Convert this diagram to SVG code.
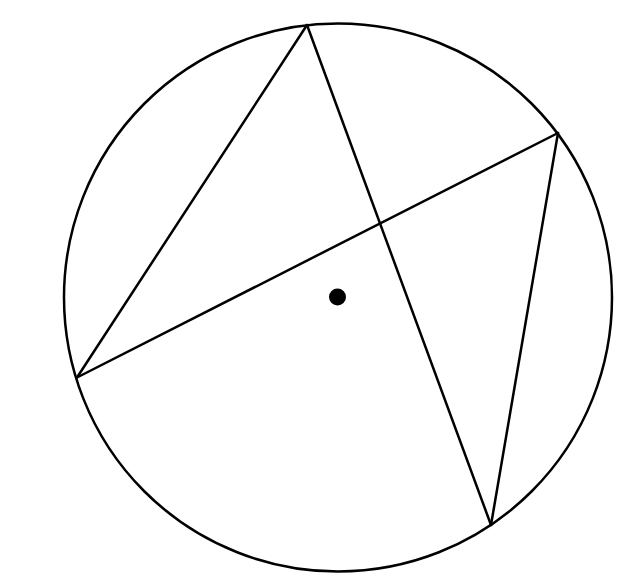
<svg xmlns="http://www.w3.org/2000/svg" width="633" height="586" viewBox="0 0 633 586">
<style>
.s{fill:none;stroke:#000;stroke-width:2.5;stroke-linejoin:round;stroke-linecap:round}
</style>
<rect width="633" height="586" fill="#fff"/>
<g id="circle"><circle class="s" cx="338" cy="297.5" r="274"/></g>
<g id="center"><circle cx="337.5" cy="297" r="8.5" fill="#000"/></g>
<g id="connectors">
<line class="s" x1="307" y1="25" x2="77" y2="377.5"/>
<line class="s" x1="307" y1="25" x2="491" y2="525"/>
<line class="s" x1="77" y1="377.5" x2="558" y2="133"/>
<line class="s" x1="558" y1="133" x2="491" y2="525"/>
</g>
</svg>
